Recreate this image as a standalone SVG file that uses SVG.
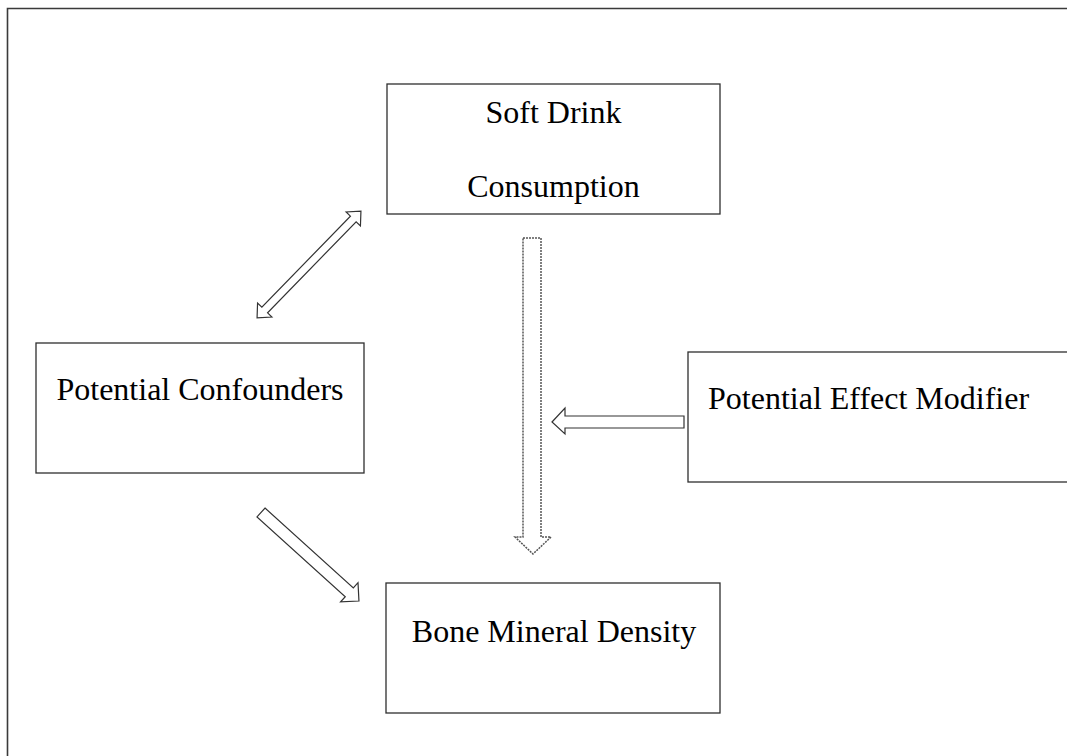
<svg xmlns="http://www.w3.org/2000/svg" width="1067" height="756" viewBox="0 0 1067 756">
<style>
.frame{fill:none;stroke:#3a3a3a;stroke-width:1.6}
.box{fill:#fff;stroke:#2e2e2e;stroke-width:1.3}
.lbl{font-family:"Liberation Serif","Times New Roman",serif;font-size:32px;fill:#000}
.arr{fill:#fff;stroke:#333;stroke-width:1.2;stroke-linejoin:miter}
.dash{fill:#fff;stroke:#555;stroke-width:1.5;stroke-dasharray:2 1}
</style>
<rect width="1067" height="756" fill="#fff"/>
<path class="frame" d="M7.5,760 V8.5 H1070"/>
<g id="soft-drink">
<rect class="box" x="387" y="84" width="333" height="130"/>
<text class="lbl" x="553.5" y="123" text-anchor="middle">Soft Drink</text>
<text class="lbl" x="553.5" y="197" text-anchor="middle">Consumption</text>
</g>
<g id="confounders">
<rect class="box" x="36" y="343" width="328" height="130"/>
<text class="lbl" x="200" y="400" text-anchor="middle">Potential Confounders</text>
</g>
<g id="effect-modifier">
<rect class="box" x="688" y="352" width="400" height="130"/>
<text class="lbl" x="708" y="409">Potential Effect Modifier</text>
</g>
<g id="bmd">
<rect class="box" x="386" y="583" width="334" height="130"/>
<text class="lbl" x="554" y="642" text-anchor="middle">Bone Mineral Density</text>
</g>
<g id="connectors">
<polygon class="arr" transform="translate(309,264.5) rotate(-45.8)" points="-74.5,0 -63.5,-10 -63.5,-4 63.5,-4 63.5,-10 74.5,0 63.5,10 63.5,4 -63.5,4 -63.5,10"/>
<polygon class="dash" points="523,238 541,238 541,537 551,537 533,554 515,537 523,537"/>
<polygon class="arr" points="552,422 565,408 565,416 684,416 684,428 565,428 565,434"/>
<polygon class="arr" transform="translate(261,512.5) rotate(42.1)" points="0,-6 119,-6 119,-13 132,0 119,13 119,6 0,6"/>
</g>
</svg>
